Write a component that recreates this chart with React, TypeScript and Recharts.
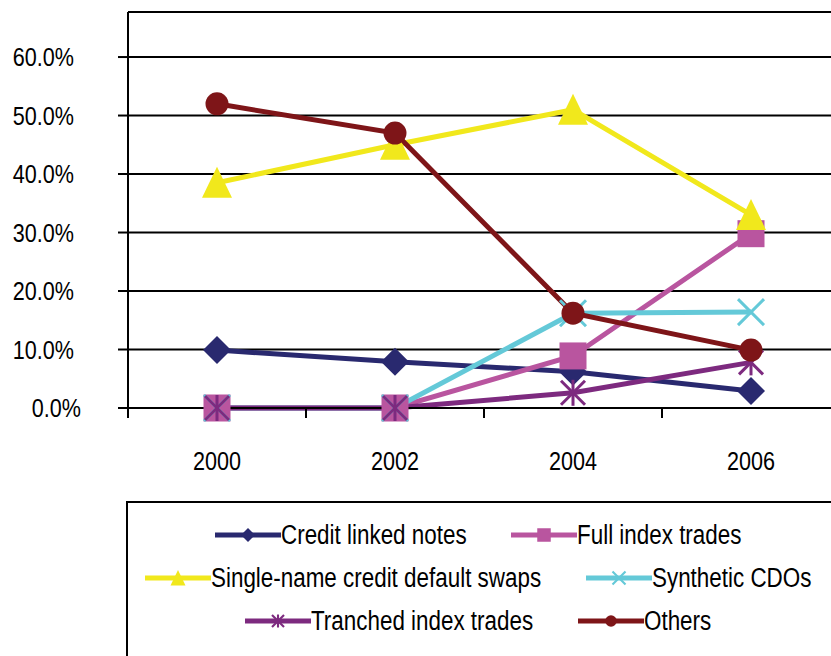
import React from 'react';
import { LineChart, Line, XAxis, YAxis, CartesianGrid, ReferenceLine } from 'recharts';

const years = [2000, 2002, 2004, 2006];
const creditLinkedNotes = [9.9, 7.9, 6.2, 2.9];
const fullIndexTrades = [0, 0, 8.9, 29.8];
const singleNameCDS = [38.5, 45.0, 51.0, 33.0];
const syntheticCDOs = [0, 0, 16.2, 16.4];
const tranchedIndexTrades = [0, 0, 2.6, 7.8];
const others = [52.0, 47.0, 16.2, 9.9];

const yTicks = [0, 10, 20, 30, 40, 50, 60];
const yMax = 67.7;
const xDomain = [1999, 2007];

const FONT = '"Liberation Sans", Arial, sans-serif';
const SX = 0.83;

type Shape = 'diamond' | 'square' | 'triangle' | 'cross' | 'asterisk' | 'circle';

const series: { key: string; name: string; color: string; shape: Shape; values: number[] }[] = [
  { key: 'cln', name: 'Credit linked notes', color: '#29296f', shape: 'diamond', values: creditLinkedNotes },
  { key: 'fit', name: 'Full index trades', color: '#b9559f', shape: 'square', values: fullIndexTrades },
  { key: 'sn', name: 'Single-name credit default swaps', color: '#f1e81c', shape: 'triangle', values: singleNameCDS },
  { key: 'syn', name: 'Synthetic CDOs', color: '#64c9d8', shape: 'cross', values: syntheticCDOs },
  { key: 'tit', name: 'Tranched index trades', color: '#7d2a7f', shape: 'asterisk', values: tranchedIndexTrades },
  { key: 'oth', name: 'Others', color: '#7e1518', shape: 'circle', values: others },
];

const data = years.map((year, i) => {
  const row: Record<string, number> = { year };
  series.forEach((s) => {
    row[s.key] = s.values[i];
  });
  return row;
});

function marker(shape: Shape, cx: number, cy: number, color: string, k: number, key?: string) {
  switch (shape) {
    case 'diamond': {
      const s = 14 * k;
      return <polygon key={key} points={`${cx},${cy - s} ${cx + s},${cy} ${cx},${cy + s} ${cx - s},${cy}`} fill={color} />;
    }
    case 'square': {
      const s = 27 * k;
      return <rect key={key} x={cx - s / 2} y={cy - s / 2} width={s} height={s} fill={color} />;
    }
    case 'triangle': {
      return (
        <polygon
          key={key}
          points={`${cx},${cy - 16 * k} ${cx + 15 * k},${cy + 15 * k} ${cx - 15 * k},${cy + 15 * k}`}
          fill={color}
        />
      );
    }
    case 'cross': {
      const s = 13 * k;
      return (
        <g key={key} stroke={color} strokeWidth={3 * Math.max(k, 0.7)}>
          <line x1={cx - s} y1={cy - s} x2={cx + s} y2={cy + s} />
          <line x1={cx - s} y1={cy + s} x2={cx + s} y2={cy - s} />
        </g>
      );
    }
    case 'asterisk': {
      const s = 13 * k;
      const d = 12 * k;
      return (
        <g key={key} stroke={color} strokeWidth={3 * Math.max(k, 0.7)}>
          <line x1={cx} y1={cy - s} x2={cx} y2={cy + s} />
          <line x1={cx - d} y1={cy - d} x2={cx + d} y2={cy + d} />
          <line x1={cx - d} y1={cy + d} x2={cx + d} y2={cy - d} />
        </g>
      );
    }
    case 'circle':
    default:
      return <circle key={key} cx={cx} cy={cy} r={11.5 * k} fill={color} />;
  }
}

const YTick = (props: any) => {
  const { x, y, payload } = props;
  const v = payload.value;
  const dx = v === 0 ? 7 : 0;
  return (
    <text
      transform={`translate(${x + dx},${y}) scale(${SX},1)`}
      x={0}
      y={0}
      textAnchor="end"
      dominantBaseline="central"
      fontFamily={FONT}
      fontSize={26}
      fill="#000"
    >
      {`${Number(v).toFixed(1)}%`}
    </text>
  );
};

const XTick = (props: any) => {
  const { x, y, payload, width } = props;
  const half = (typeof width === 'number' && width > 0 ? width : 712) / 8;
  return (
    <g>
      <line x1={x - half} x2={x - half} y1={y - 10} y2={y} stroke="#000" strokeWidth={2} />
      <text
        transform={`translate(${x},${y + 52}) scale(${SX},1)`}
        x={0}
        y={0}
        textAnchor="middle"
        fontFamily={FONT}
        fontSize={26}
        fill="#000"
      >
        {payload.value}
      </text>
    </g>
  );
};

let measureCtx: CanvasRenderingContext2D | null = null;
function textWidth(text: string, font: string) {
  if (!measureCtx) {
    measureCtx = document.createElement('canvas').getContext('2d');
  }
  if (!measureCtx) return text.length * 12;
  measureCtx.font = font;
  return measureCtx.measureText(text).width;
}

const LEGEND_FONT_SIZE = 27;

const LegendItem = ({ s }: { s: (typeof series)[number] }) => {
  const w = textWidth(s.name, `${LEGEND_FONT_SIZE}px "Liberation Sans"`) * SX;
  return (
    <div style={{ display: 'flex', alignItems: 'center' }}>
      <svg width={66} height={24} style={{ display: 'block' }}>
        <line x1={0} y1={12} x2={66} y2={12} stroke={s.color} strokeWidth={5} />
        {marker(s.shape, 33, 12, s.color, 0.5)}
      </svg>
      <div style={{ position: 'relative', width: w, height: 32 }}>
        <span
          style={{
            position: 'absolute',
            left: 0,
            top: 0,
            fontFamily: FONT,
            fontSize: LEGEND_FONT_SIZE,
            lineHeight: '32px',
            color: '#000',
            whiteSpace: 'nowrap',
            transform: `scaleX(${SX})`,
            transformOrigin: '0 0',
          }}
        >
          {s.name}
        </span>
      </div>
    </div>
  );
};

export default function App() {
  const rows = [
    [series[0], series[1]],
    [series[2], series[3]],
    [series[4], series[5]],
  ];
  return (
    <div style={{ position: 'absolute', left: 0, top: 0, width: 831, height: 656, overflow: 'hidden', background: '#fff' }}>
      <LineChart width={845} height={500} data={data} margin={{ top: 12, right: 5, bottom: 30, left: 0 }}>
        <CartesianGrid vertical={false} stroke="#000" strokeWidth={2} />
        <XAxis
          dataKey="year"
          type="number"
          domain={xDomain}
          ticks={years}
          interval={0}
          height={62}
          axisLine={{ stroke: '#000', strokeWidth: 2 }}
          tickLine={false}
          tickSize={10}
          tickMargin={0}
          tick={<XTick />}
        />
        <YAxis
          type="number"
          domain={[0, yMax]}
          ticks={yTicks}
          interval={0}
          width={128}
          axisLine={{ stroke: '#000', strokeWidth: 2 }}
          tickLine={{ stroke: '#000', strokeWidth: 2 }}
          tickSize={10}
          tickMargin={44}
          tick={<YTick />}
        />
        <ReferenceLine y={yMax} stroke="#000" strokeWidth={2} ifOverflow="visible" />
        {series.map((s) => (
          <Line
            key={s.key}
            dataKey={s.key}
            name={s.name}
            stroke={s.color}
            strokeWidth={5}
            isAnimationActive={false}
            dot={(p: any) => marker(s.shape, p.cx, p.cy, s.color, 1, `${s.key}-${p.index}`)}
            activeDot={false}
          />
        ))}
      </LineChart>
      <div
        style={{
          position: 'absolute',
          left: 126,
          top: 501,
          width: 740,
          height: 220,
          border: '2px solid #000',
          boxSizing: 'border-box',
        }}
      >
        <div style={{ position: 'absolute', left: 0, top: 10, width: 700 }}>
          {rows.map((r, i) => (
            <div
              key={i}
              style={{ display: 'flex', justifyContent: 'center', gap: 45, height: 43, alignItems: 'center' }}
            >
              {r.map((s) => (
                <LegendItem key={s.key} s={s} />
              ))}
            </div>
          ))}
        </div>
      </div>
    </div>
  );
}
